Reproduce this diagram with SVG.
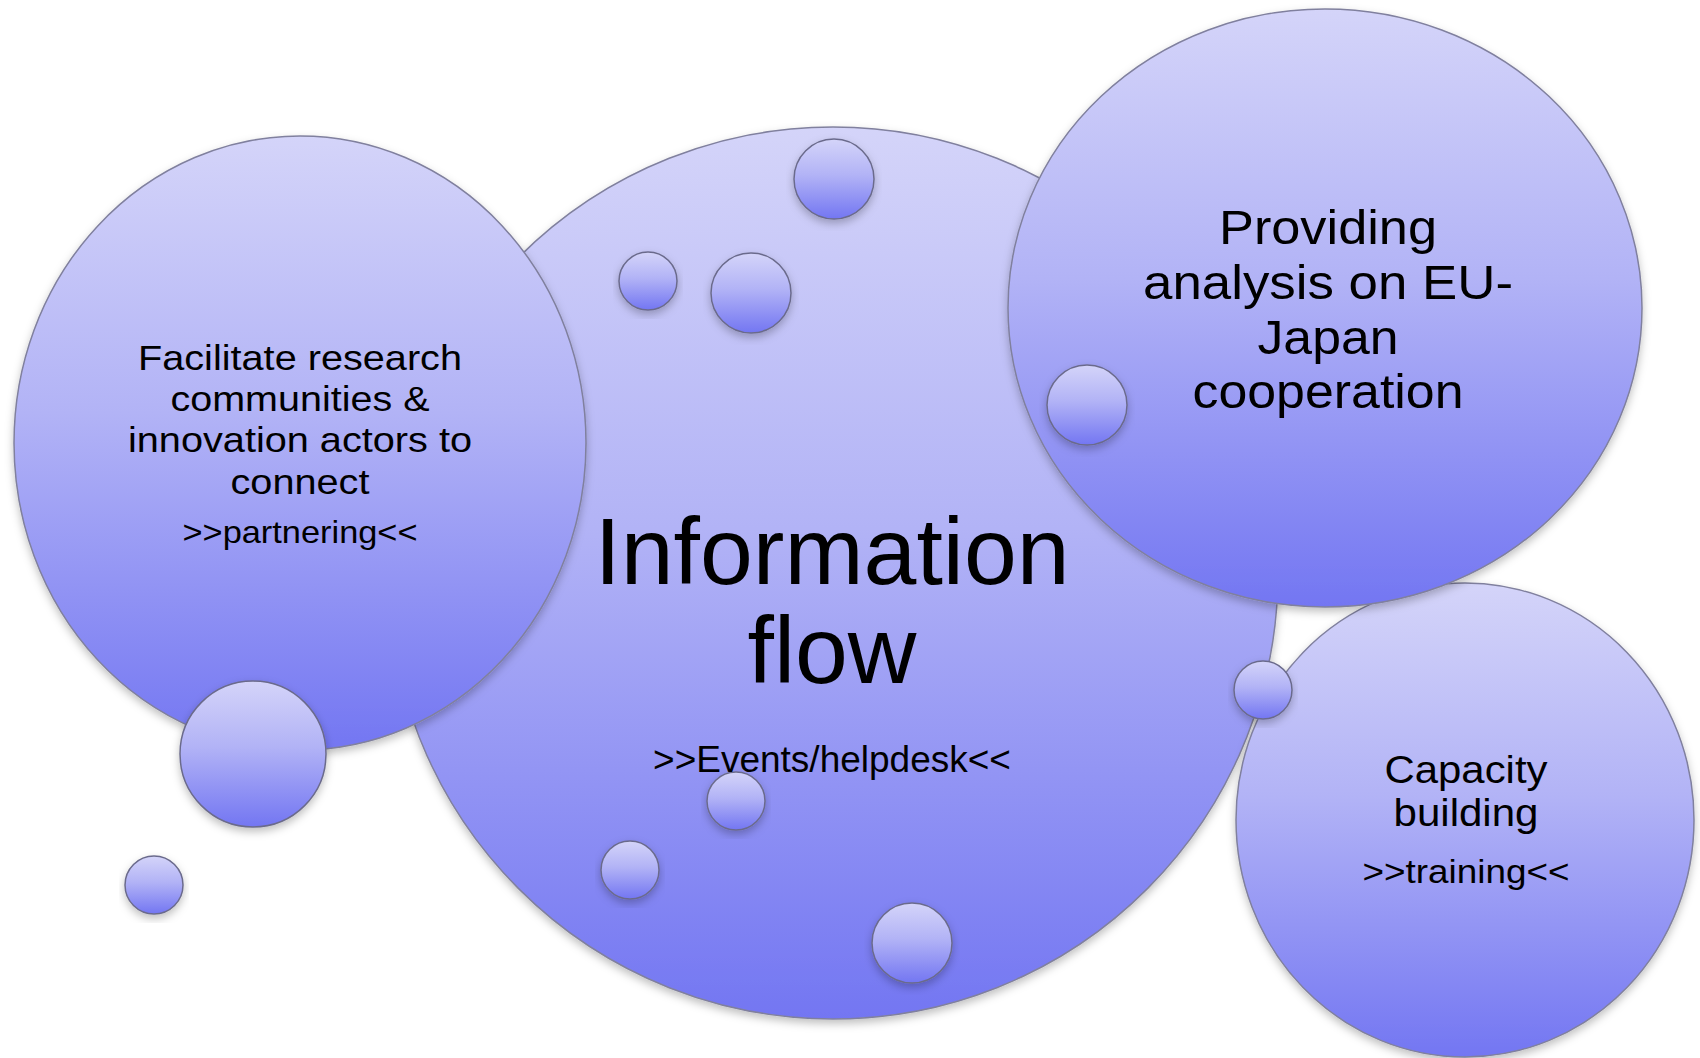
<svg xmlns="http://www.w3.org/2000/svg" width="1700" height="1058" viewBox="0 0 1700 1058">
  <defs>
    <linearGradient id="g" x1="0" y1="0" x2="0" y2="1">
      <stop offset="0" stop-color="#d4d4f9"/>
      <stop offset="0.45" stop-color="#b2b3f6"/>
      <stop offset="1" stop-color="#7376f2"/>
    </linearGradient>
    <filter id="sh" x="-10%" y="-10%" width="120%" height="125%">
      <feDropShadow dx="0" dy="4" stdDeviation="4" flood-color="#000" flood-opacity="0.25"/>
    </filter>
  </defs>
  <style>
    .big { fill: url(#g); stroke: #80809e; stroke-width: 1.5; filter: url(#sh); }
    .bub { fill: url(#g); stroke: #6b6b8c; stroke-width: 1.5; filter: url(#sh); }
    text { font-family: "Liberation Sans", Arial, sans-serif; fill: #000; text-anchor: middle; }
  </style>
  <rect width="1700" height="1058" fill="#fff"/>

  <g id="node-information-flow">
    <ellipse class="big" cx="833" cy="573" rx="445" ry="446"/>
  </g>
  <g id="node-facilitate">
    <ellipse class="big" cx="300" cy="443" rx="286" ry="307"/>
  </g>
  <g id="node-capacity">
    <ellipse class="big" cx="1465" cy="820" rx="229" ry="237"/>
  </g>
  <g id="node-analysis">
    <ellipse class="big" cx="1325" cy="308" rx="317" ry="299"/>
  </g>

  <g id="bubbles">
    <circle class="bub" cx="834" cy="179" r="40"/>
    <circle class="bub" cx="648" cy="281" r="29"/>
    <circle class="bub" cx="751" cy="293" r="40"/>
    <circle class="bub" cx="1087" cy="405" r="40"/>
    <circle class="bub" cx="1263" cy="690" r="29"/>
    <circle class="bub" cx="253" cy="754" r="73"/>
    <circle class="bub" cx="154" cy="885" r="29"/>
    <circle class="bub" cx="736" cy="801" r="29"/>
    <circle class="bub" cx="630" cy="870" r="29"/>
    <circle class="bub" cx="912" cy="943" r="40"/>
  </g>

  <g id="labels">
    <g font-size="35">
      <text x="300" y="370" textLength="324" lengthAdjust="spacingAndGlyphs">Facilitate research</text>
      <text x="300" y="411" textLength="259" lengthAdjust="spacingAndGlyphs">communities &amp;</text>
      <text x="300" y="452" textLength="344" lengthAdjust="spacingAndGlyphs">innovation actors to</text>
      <text x="300" y="494" textLength="139" lengthAdjust="spacingAndGlyphs">connect</text>
    </g>
    <text x="300" y="543" font-size="30.5" textLength="235" lengthAdjust="spacingAndGlyphs">&gt;&gt;partnering&lt;&lt;</text>

    <text x="832" y="584" font-size="95">Information</text>
    <text x="832" y="683" font-size="95">flow</text>
    <text x="832" y="772" font-size="37">&gt;&gt;Events/helpdesk&lt;&lt;</text>

    <g font-size="49">
      <text x="1328" y="244" textLength="218" lengthAdjust="spacingAndGlyphs">Providing</text>
      <text x="1328" y="299" textLength="370" lengthAdjust="spacingAndGlyphs">analysis on EU-</text>
      <text x="1328" y="354" textLength="141" lengthAdjust="spacingAndGlyphs">Japan</text>
      <text x="1328" y="408" textLength="271" lengthAdjust="spacingAndGlyphs">cooperation</text>
    </g>

    <text x="1466" y="783" font-size="38" textLength="163" lengthAdjust="spacingAndGlyphs">Capacity</text>
    <text x="1466" y="826" font-size="38" textLength="145" lengthAdjust="spacingAndGlyphs">building</text>
    <text x="1466" y="883" font-size="34" textLength="207" lengthAdjust="spacingAndGlyphs">&gt;&gt;training&lt;&lt;</text>
  </g>
</svg>
